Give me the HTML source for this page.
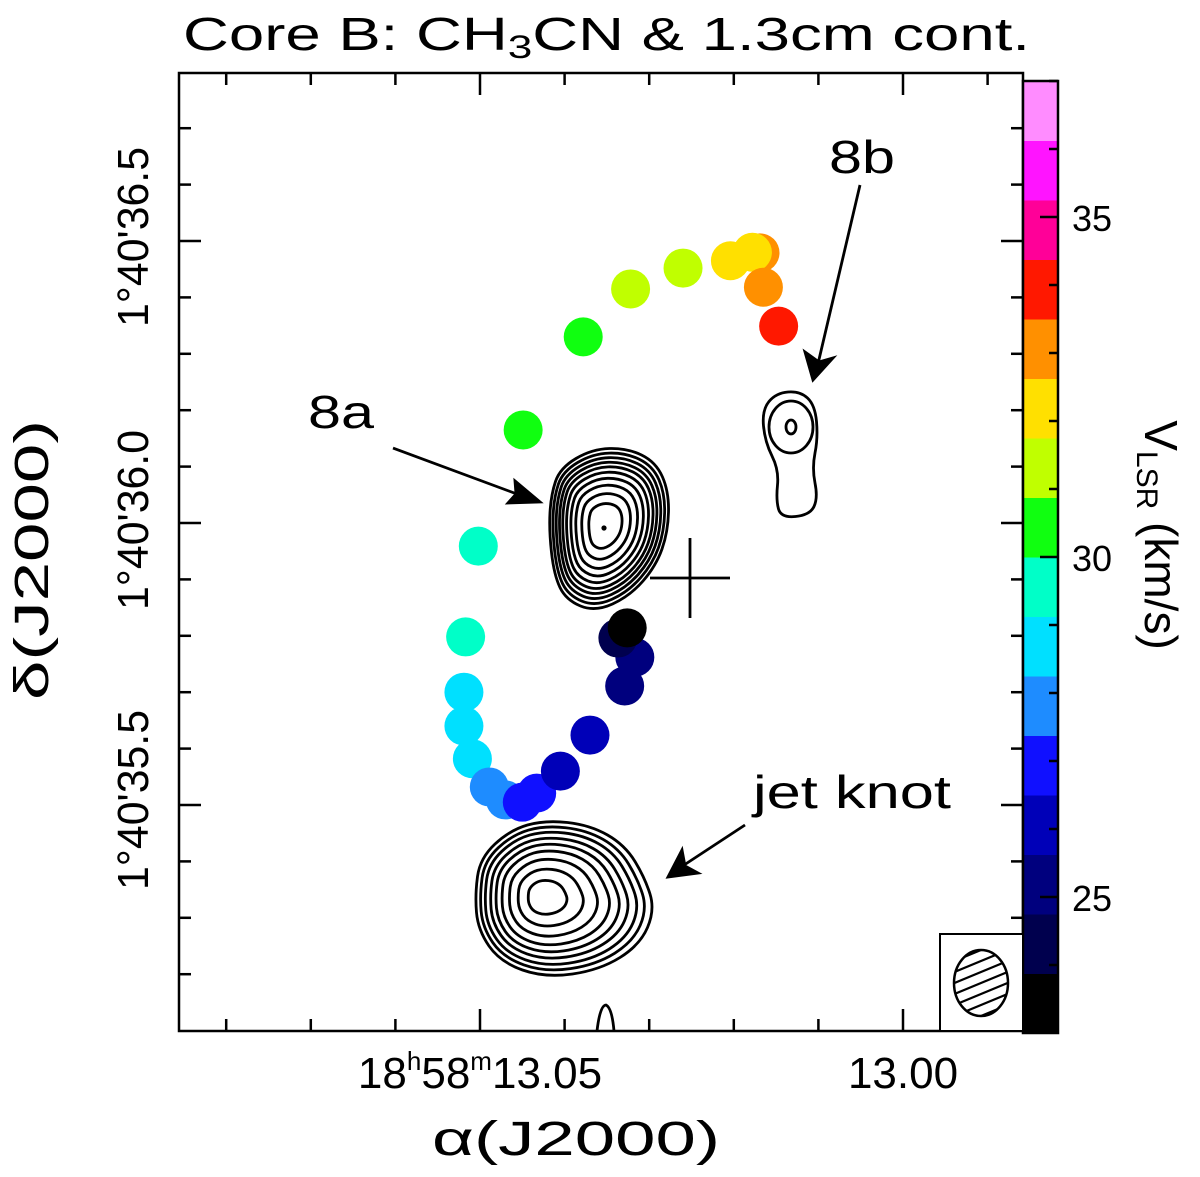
<!DOCTYPE html>
<html><head><meta charset="utf-8"><style>
html,body{margin:0;padding:0;background:#fff;}
svg text{font-family:"Liberation Sans",sans-serif;fill:#000;}
</style></head><body>
<svg id="chart" width="1200" height="1172" viewBox="0 0 1200 1172" xmlns="http://www.w3.org/2000/svg">
<text x="183" y="50" font-size="46" textLength="847" lengthAdjust="spacingAndGlyphs">Core B: CH<tspan font-size="32" dy="8">3</tspan><tspan dy="-8">CN &amp; 1.3cm cont.</tspan></text>
<g id="contours" fill="none" stroke="#000" stroke-width="2.8"></g>
<g id="points"></g>
<g id="axes" stroke="#000" stroke-width="2.5" fill="none"></g>
<g id="cbar"></g>
<g stroke="#000" stroke-width="2.8" fill="none">
 <line x1="650" y1="578" x2="730" y2="578"/>
 <line x1="690" y1="538" x2="690" y2="618"/>
 <line x1="393" y1="448" x2="525" y2="497"/>
 <path d="M515,481 L540,502 L508,503 L516,494 Z" fill="#000"/>
 <line x1="860" y1="185" x2="817" y2="368"/>
 <path d="M805,352 L813,380 L833,358 L819,362 Z" fill="#000"/>
 <line x1="745" y1="825" x2="678" y2="869"/>
 <path d="M682,850 L668,877 L698,873 L685,866 Z" fill="#000"/>
</g>
<text x="308" y="428" font-size="46" textLength="66" lengthAdjust="spacingAndGlyphs">8a</text>
<text x="829" y="173" font-size="46" textLength="66" lengthAdjust="spacingAndGlyphs">8b</text>
<text x="753" y="808" font-size="46" textLength="198" lengthAdjust="spacingAndGlyphs">jet knot</text>
<g>
 <defs><clipPath id="bc"><ellipse cx="981" cy="983" rx="27" ry="33"/></clipPath></defs>
 <rect x="940" y="934" width="83" height="97" fill="#fff" stroke="#000" stroke-width="2"/>
 <g clip-path="url(#bc)" stroke="#000" stroke-width="2.2" id="hatch"></g>
 <ellipse cx="981" cy="983" rx="27" ry="33" fill="none" stroke="#000" stroke-width="2.5"/>
</g>
<text x="480" y="1088" font-size="44" text-anchor="middle">18<tspan font-size="26" dy="-18">h</tspan><tspan dy="18">58</tspan><tspan font-size="26" dy="-18">m</tspan><tspan dy="18">13.05</tspan></text>
<text x="903" y="1088" font-size="44" text-anchor="middle">13.00</text>
<text x="432" y="1155" font-size="48" textLength="288" lengthAdjust="spacingAndGlyphs">α(J2000)</text>
<text transform="translate(148,237) rotate(-90)" font-size="44" text-anchor="middle" textLength="180" lengthAdjust="spacingAndGlyphs">1°40'36.5</text>
<text transform="translate(148,520) rotate(-90)" font-size="44" text-anchor="middle" textLength="180" lengthAdjust="spacingAndGlyphs">1°40'36.0</text>
<text transform="translate(148,800) rotate(-90)" font-size="44" text-anchor="middle" textLength="180" lengthAdjust="spacingAndGlyphs">1°40'35.5</text>
<text transform="translate(48,560) rotate(-90)" font-size="48" text-anchor="middle" textLength="280" lengthAdjust="spacingAndGlyphs">δ(J2000)</text>
<text transform="translate(1145,535) rotate(90)" font-size="46" text-anchor="middle">V<tspan font-size="30" dy="8">LSR</tspan><tspan dy="-8"> (km/s)</tspan></text>
</svg>
<script>
const NS='http://www.w3.org/2000/svg';
// ---- data ----
const pointRA=[13.0517,13.0502,13.0519,13.0519,13.0509,13.0470,13.0489,13.0450,13.0433,13.0405,13.0370,13.0329,13.0317,13.0337,13.0326,13.0449,13.0378,13.0322,13.0260,13.0204,13.0169,13.0178,13.0165,13.0147];
const pointDec=[35.798,35.959,35.700,35.640,35.582,35.509,35.532,35.505,35.521,35.560,35.624,35.711,35.762,35.796,35.814,36.165,36.330,36.415,36.452,36.465,36.479,36.480,36.418,36.349];
const pointVel=[29.6,29.6,28.7,28.7,28.7,27.8,27.8,26.9,26.9,26.1,26.1,25.2,25.2,24.3,23.4,30.4,30.4,31.3,31.3,32.2,33.1,32.2,33.1,33.9];
const cbarColors=['#000000','#00004e','#00007e','#0000b8','#1010ff','#1e8cff','#00e0ff','#00ffc8','#10ff10','#c0ff00','#ffe000','#ff9000','#ff1800','#ff0098','#ff14ff','#ff8cff'];
const vMin=23.0, vMax=37.0;
const cbarTicks=[25,30,35];
const xTicks=[13.08,13.07,13.06,13.05,13.04,13.03,13.02,13.01,13.00,12.99];
const yTicks=[36.7,36.6,36.5,36.4,36.3,36.2,36.1,36.0,35.9,35.8,35.7,35.6,35.5,35.4,35.3,35.2];
// ---- axes functions ----
const L=179,R=1023,T=73,B=1031;
const xs=ra=>480+(13.05-ra)*8460;
const ys=d=>523-(d-36.0)*564;
const cy=v=>217-(v-35)*68;
function colorFor(v){let i=Math.floor((v-vMin)/(vMax-vMin)*cbarColors.length);i=Math.max(0,Math.min(cbarColors.length-1,i));return cbarColors[i];}
function mk(tag,attrs,parent){const e=document.createElementNS(NS,tag);for(const k in attrs)e.setAttribute(k,attrs[k]);parent.appendChild(e);return e;}
// points
const pg=document.getElementById('points');
for(let i=0;i<pointRA.length;i++){
 const c=mk('circle',{cx:xs(pointRA[i]),cy:ys(pointDec[i]),r:19.5,fill:colorFor(pointVel[i])},pg);
 
 
}
// contours
const cg=document.getElementById('contours');
function nested(pts,cx,cyy,facs,name){
 facs.forEach(f=>{
  const p=pts.map(q=>[cx+(q[0]-cx)*f,cyy+(q[1]-cyy)*f]);
  const n=p.length;let d='';
  for(let i=0;i<n;i++){const a=p[i],b=p[(i+1)%n];const m=[(a[0]+b[0])/2,(a[1]+b[1])/2];
   if(i===0){const z=p[n-1];d+='M'+((z[0]+a[0])/2)+','+((z[1]+a[1])/2);}
   d+=' Q'+a[0]+','+a[1]+' '+m[0]+','+m[1];}
  const e=mk('path',{d:d+'Z'},cg);
  
  
 });
}
nested([[560,468],[592,449],[627,448],[656,462],[669,492],[668,532],[656,566],[630,596],[595,612],[566,600],[554,575],[549,530],[551,495]],604,525,[1,.94,.88,.82,.76,.69,.61,.52,.41,.28],'contour-8a');
nested([[480,858],[510,830],[545,820],[590,825],[625,845],[645,878],[655,910],[640,945],[600,970],[545,978],[500,962],[478,930],[475,895]],543,897,[1,.93,.86,.78,.7,.61,.5,.37,.22],'contour-jet-knot');
nested([[776,393],[800,391],[815,405],[818,438],[812,468],[818,498],[810,515],[781,518],[776,500],[779,470],[765,442],[762,410]],790,450,[1],'contour-8b');
[[22,26],[5,7]].forEach(r=>{const e=mk('ellipse',{cx:791,cy:427,rx:r[0],ry:r[1]},cg);});
{const e=mk('path',{d:'M597,1031 Q600,1005 606,1005 Q612,1008 614,1031'},cg);}
mk('circle',{cx:604,cy:528,r:1.2,fill:'#000'},cg);
// hatch
const hg=document.getElementById('hatch');
for(let k=-6;k<=6;k++){mk('line',{x1:940,y1:1000+k*11,x2:1022,y2:966+k*11},hg);}
// axes
const ag=document.getElementById('axes');
mk('rect',{x:L,y:T,width:R-L,height:B-T},ag);
xTicks.forEach(t=>{const x=xs(t);const big=Math.abs(t-13.05)<1e-6||Math.abs(t-13.00)<1e-6;const l=big?22:12;
 mk('line',{x1:x,y1:B,x2:x,y2:B-l},ag);mk('line',{x1:x,y1:T,x2:x,y2:T+l},ag);});
yTicks.forEach(t=>{const y=ys(t);if(y<T+2||y>B-2)return;const big=[36.5,36.0,35.5].some(v=>Math.abs(v-t)<1e-6);const l=big?22:12;
 mk('line',{x1:L,y1:y,x2:L+l,y2:y},ag);mk('line',{x1:R,y1:y,x2:R-l,y2:y},ag);});
// colorbar
const cb=document.getElementById('cbar');
const n=cbarColors.length,step=(vMax-vMin)/n;
cbarColors.forEach((c,i)=>{const y0=cy(vMin+(i+1)*step),y1=cy(vMin+i*step);
 const r=mk('rect',{x:1023,y:y0,width:35,height:y1-y0+0.5,fill:c},cb);
 
 });
mk('rect',{x:1023,y:cy(vMax),width:35,height:cy(vMin)-cy(vMax),fill:'none',stroke:'#000','stroke-width':2.5},cb);
for(let v=24;v<=37;v++){const big=cbarTicks.includes(v);mk('line',{x1:1058,y1:cy(v),x2:big?1040:1049,y2:cy(v),stroke:'#000','stroke-width':2.5},cb);}
cbarTicks.forEach(v=>{const t=mk('text',{x:1072,y:cy(v)+14,'font-size':36},cb);t.textContent=v;
 
 });
</script>
</body></html>
